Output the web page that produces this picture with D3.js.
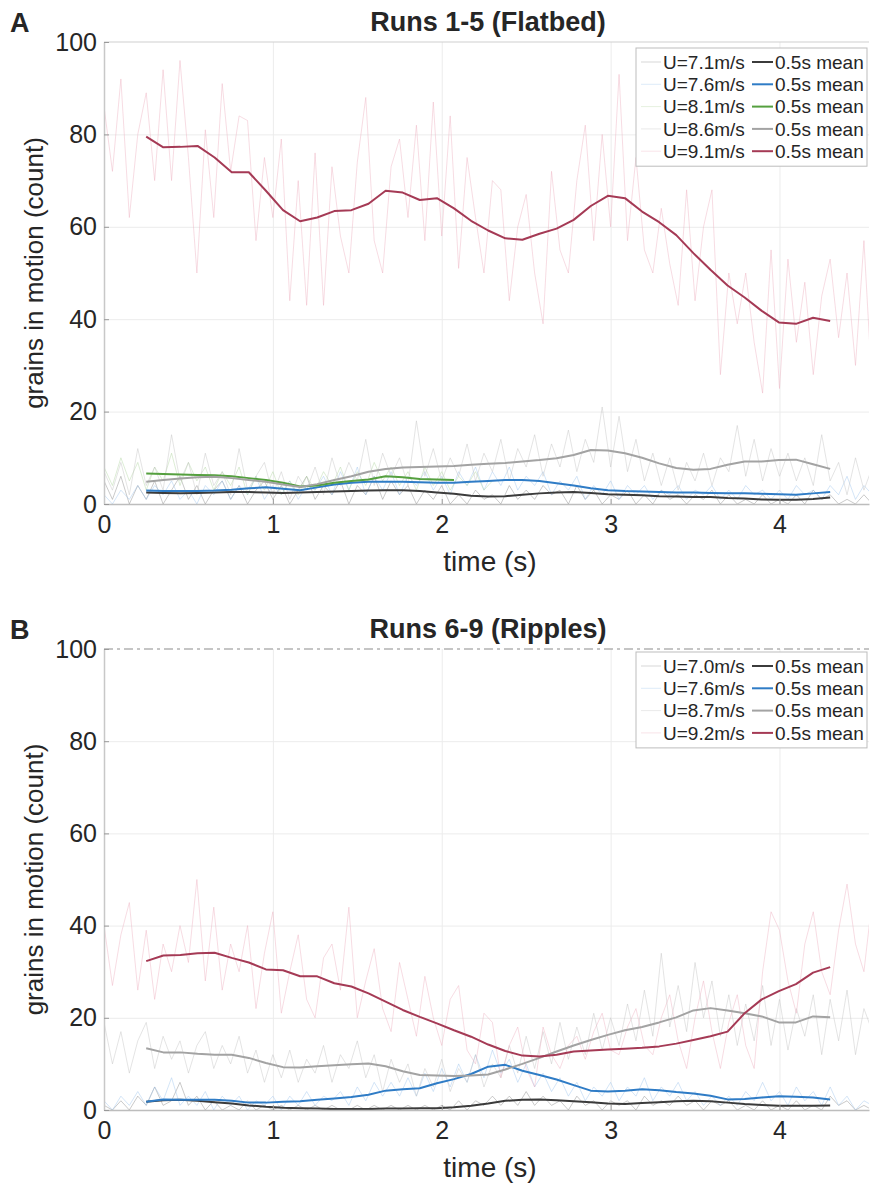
<!DOCTYPE html>
<html>
<head>
<meta charset="utf-8">
<script src="https://cdn.jsdelivr.net/npm/d3@7"></script>
<style>
  body { margin: 0; background: #fff; }
  text { font-family: 'Liberation Sans', Arial, Helvetica, sans-serif; fill: #262626; }
</style>
</head>
<body>
<script>
// raw counts, sampled every 0.05 s from t = 0
// panel A (flatbed runs 1-5)
let blackRawA = [5, 1, 6, 0, 4, 1, 5, 0, 3, 6, 1, 4, 0, 3, 5, 1, 4, 0, 3, 5,
  1, 4, 0, 3, 6, 1, 4, 2, 5, 0, 4, 2, 6, 1, 5, 2, 4, 0, 3, 1,
  4, 0, 2, 0, 3, 1, 2, 0, 4, 1, 3, 1, 4, 2, 3, 0, 4, 1, 3, 0,
  2, 1, 3, 0, 2, 0, 3, 1, 2, 0, 2, 1, 3, 0, 2, 0, 1, 0, 2, 0,
  1, 0, 2, 0, 3, 1, 2, 0, 1, 0, 2, 0]
let blueRawA = [2, 0, 3, 1, 4, 1, 4, 2, 5, 1, 3, 0, 4, 2, 5, 1, 4, 2, 6, 1,
  4, 2, 5, 1, 4, 3, 6, 2, 7, 3, 8, 2, 6, 3, 7, 2, 6, 4, 7, 3,
  6, 2, 7, 4, 8, 3, 7, 4, 8, 3, 6, 4, 7, 2, 5, 3, 6, 1, 4, 2,
  5, 1, 4, 2, 4, 1, 3, 2, 4, 1, 3, 2, 4, 1, 3, 1, 4, 2, 3, 1,
  3, 1, 4, 2, 3, 1, 4, 2, 6, 1, 4, 2]
let greenRawA = [8, 4, 10, 5, 9, 3, 8, 5, 11, 4, 9, 5, 8, 3, 7, 4, 8, 2, 6, 3,
  7, 2, 5, 2, 6, 3, 7, 4, 8, 3, 7, 4, 9, 5, 8, 4, 7, 3, 8, 4,
  7, 3, 6, 4, 7, 3, 5]
let grayRawA = [7, 3, 9, 2, 12, 4, 8, 3, 15, 5, 9, 2, 11, 4, 7, 2, 12, 3, 6, 9,
  2, 7, 1, 6, 3, 8, 2, 10, 4, 9, 5, 14, 4, 11, 6, 10, 4, 18, 6, 12,
  5, 10, 6, 13, 5, 11, 7, 14, 5, 12, 8, 15, 6, 13, 8, 16, 7, 14, 9, 21,
  8, 19, 7, 14, 5, 11, 4, 10, 3, 9, 5, 11, 4, 10, 7, 17, 6, 14, 5, 12,
  6, 11, 5, 10, 4, 15, 5, 9, 2, 10, 3, 8]
let redRawA = [86, 72, 92, 62, 80, 89, 70, 94, 70, 96, 75, 50, 81, 62, 91, 72, 84, 83, 57, 75,
  62, 79, 44, 70, 43, 76, 43, 73, 58, 50, 74, 88, 57, 50, 73, 79, 62, 82, 57, 87,
  58, 84, 51, 75, 62, 50, 70, 68, 44, 60, 67, 50, 39, 72, 55, 50, 70, 82, 57, 80,
  60, 93, 57, 75, 55, 50, 64, 52, 43, 68, 44, 60, 68, 28, 50, 39, 50, 35, 24, 55,
  25, 53, 35, 48, 28, 45, 53, 36, 50, 30, 57, 24]

// 0.5 s running means, from t = 0.25 s to t = 4.30 s
let blackMeanA = [2.5, 2.4, 2.3, 2.4, 2.5, 2.6, 2.6, 2.5, 2.4, 2.5, 2.6, 2.7, 2.8, 2.9, 3.0, 3.0, 2.8, 2.5, 2.2, 1.8,
  1.6, 1.7, 2.0, 2.3, 2.5, 2.6, 2.4, 2.1, 2.0, 1.9, 1.7, 1.6, 1.5, 1.5, 1.3, 1.2, 1.0, 0.9, 0.9, 1.1, 1.4]
let blueMeanA = [2.9, 2.8, 2.8, 2.8, 2.9, 3.1, 3.4, 3.6, 3.3, 3.0, 3.6, 4.2, 4.6, 4.8, 4.8, 4.8, 4.7, 4.6, 4.6, 4.8,
  5.0, 5.2, 5.2, 5.0, 4.5, 4.0, 3.4, 3.0, 2.8, 2.7, 2.6, 2.5, 2.5, 2.4, 2.3, 2.3, 2.2, 2.1, 2.0, 2.3, 2.6]
let greenMeanA = [6.6, 6.5, 6.4, 6.3, 6.2, 6.0, 5.6, 5.2, 4.6, 3.8, 4.0, 4.6, 5.0, 5.3, 6.0, 5.8, 5.4, 5.3, 5.2]
let grayMeanA = [4.8, 5.2, 5.5, 5.8, 5.9, 5.6, 5.2, 4.8, 4.2, 3.7, 4.3, 5.2, 6.0, 7.0, 7.6, 7.9, 8.0, 8.1, 8.2, 8.5,
  8.7, 8.9, 9.2, 9.5, 9.9, 10.6, 11.7, 11.6, 11.0, 10.0, 8.8, 7.8, 7.4, 7.6, 8.5, 9.2, 9.2, 9.5, 9.6, 8.6, 7.6]
let redMeanA = [79.5, 77.2, 77.3, 77.5, 75.0, 71.8, 71.8, 67.8, 63.6, 61.2, 62.0, 63.4, 63.6, 65.0, 67.8, 67.4, 65.8, 66.2, 64.0, 61.3,
  59.2, 57.5, 57.2, 58.5, 59.6, 61.5, 64.5, 66.7, 66.2, 63.3, 61.0, 58.2, 54.3, 50.7, 47.3, 44.7, 41.8, 39.3, 39.0, 40.3, 39.6]

// panel B (ripples runs 6-9)
let blackRawB = [1, 0, 2, 0, 3, 1, 5, 1, 2, 6, 1, 3, 0, 2, 0, 1, 0, 2, 0, 1,
  0, 1, 0, 1, 0, 1, 0, 1, 0, 0, 1, 0, 1, 0, 1, 0, 1, 0, 1, 0,
  1, 0, 2, 0, 2, 1, 3, 1, 3, 1, 4, 1, 3, 1, 2, 0, 3, 1, 2, 0,
  2, 1, 2, 0, 3, 1, 2, 1, 3, 1, 2, 0, 2, 1, 2, 0, 1, 0, 2, 0,
  1, 0, 2, 0, 1, 0, 3, 1, 2, 0, 1, 0]
let blueRawB = [2, 0, 3, 1, 4, 1, 5, 2, 7, 1, 3, 1, 4, 0, 3, 1, 3, 0, 2, 1,
  3, 0, 3, 1, 4, 1, 3, 2, 4, 1, 5, 2, 6, 3, 6, 3, 7, 3, 8, 4,
  9, 5, 10, 6, 12, 7, 13, 8, 11, 6, 10, 5, 8, 4, 7, 3, 6, 2, 5, 3,
  6, 2, 5, 3, 7, 2, 5, 3, 6, 2, 4, 1, 3, 1, 3, 1, 4, 2, 6, 2,
  4, 1, 5, 2, 4, 1, 5, 1, 3, 0, 2, 1]
let grayRawB = [19, 10, 17, 8, 15, 19, 9, 16, 11, 15, 8, 14, 17, 9, 14, 10, 16, 8, 13, 6,
  12, 7, 13, 6, 11, 8, 14, 6, 12, 9, 15, 7, 12, 4, 11, 6, 10, 3, 9, 5,
  11, 4, 9, 6, 12, 5, 10, 7, 14, 8, 16, 9, 17, 10, 19, 11, 18, 12, 21, 13,
  20, 14, 23, 15, 26, 16, 34, 18, 27, 17, 32, 20, 28, 16, 25, 14, 23, 15, 27, 14,
  24, 13, 22, 16, 25, 12, 24, 15, 26, 12, 22, 17]
let redRawB = [40, 27, 38, 45, 26, 39, 24, 36, 30, 40, 32, 50, 28, 44, 26, 36, 30, 40, 22, 34,
  43, 21, 30, 38, 24, 20, 33, 36, 26, 44, 20, 28, 35, 22, 17, 32, 24, 16, 29, 20,
  14, 24, 27, 13, 10, 21, 19, 7, 14, 18, 9, 5, 18, 12, 9, 14, 16, 11, 17, 21,
  13, 12, 18, 22, 14, 12, 20, 25, 15, 9, 20, 28, 17, 9, 19, 25, 14, 9, 30, 43,
  39, 28, 21, 36, 43, 30, 25, 39, 49, 36, 30, 46]

let blackMeanB = [1.8, 2.1, 2.2, 2.0, 1.7, 1.4, 1.0, 0.7, 0.5, 0.4, 0.3, 0.2, 0.2, 0.2, 0.3, 0.3, 0.4, 0.4, 0.6, 0.9,
  1.4, 2.0, 2.2, 2.3, 2.1, 1.9, 1.7, 1.4, 1.3, 1.5, 1.7, 1.9, 2.0, 1.9, 1.6, 1.3, 1.1, 0.9, 0.9, 0.9, 1.0]
let blueMeanB = [1.8, 2.3, 2.2, 2.2, 2.2, 2.0, 1.6, 1.6, 1.8, 1.9, 2.2, 2.5, 2.8, 3.3, 4.2, 4.5, 4.7, 5.8, 6.7, 7.8,
  9.4, 9.8, 8.5, 7.6, 6.6, 5.4, 4.2, 4.0, 4.2, 4.5, 4.3, 3.9, 3.6, 3.1, 2.3, 2.4, 2.7, 3.0, 2.9, 2.7, 2.3]
let grayMeanB = [13.4, 12.5, 12.5, 12.2, 12.0, 12.0, 11.3, 10.2, 9.3, 9.2, 9.5, 9.7, 9.9, 10.1, 9.5, 8.4, 7.6, 7.5, 7.4, 7.5,
  7.7, 8.8, 10.0, 11.3, 12.7, 14.0, 15.2, 16.3, 17.3, 18.0, 19.0, 20.1, 21.6, 22.1, 21.6, 21.0, 20.3, 19.0, 19.0, 20.3, 20.1]
let redMeanB = [32.3, 33.5, 33.6, 34.0, 34.1, 33.0, 32.0, 30.5, 30.3, 29.0, 29.0, 27.5, 26.8, 25.3, 23.5, 21.7, 20.2, 18.8, 17.3, 15.9,
  14.2, 12.8, 11.8, 11.6, 12.0, 12.7, 12.9, 13.1, 13.3, 13.5, 13.8, 14.4, 15.2, 16.0, 17.0, 21.0, 24.0, 25.8, 27.3, 29.8, 31.0]

// legend labels
let speedsA = ['U=7.1m/s', 'U=7.6m/s', 'U=8.1m/s', 'U=8.6m/s', 'U=9.1m/s']
let speedsB = ['U=7.0m/s', 'U=7.6m/s', 'U=8.7m/s', 'U=9.2m/s']
let meanLabel = '0.5s mean'
let yTicks = [0, 20, 40, 60, 80, 100]
let xTicks = [0, 1, 2, 3, 4]

// sampling of the raw and mean series
let rawStep = 0.05
let meanStart = 0.25
let meanStep = 0.10125

// colours for each speed (raw line, mean line)
let col = {
  black: { raw: '#8a8a8a', mean: '#3b3b3b' },
  blue: { raw: '#9fc6ee', mean: '#2f7cc6' },
  green: { raw: '#b4d8a4', mean: '#55a03f' },
  gray: { raw: '#c4c4c4', mean: '#a3a3a3' },
  red: { raw: '#eeb1c1', mean: '#a53a55' },
}

// measurements for the plots
let m = {
  width: 871,
  height: 1187,
  left: 104,
  right: 869,
  xMax: 4.53,
}

let svg = d3.select('body')
  .append('svg')
  .attr('width', m.width)
  .attr('height', m.height)

let panels = [
  {
    id: 'A', title: 'Runs 1-5 (Flatbed)', top: 42, bottom: 504, dashedTop: false, legendTop: 48,
    series: [
      { label: speedsA[0], raw: blackRawA, mean: blackMeanA, c: col.black },
      { label: speedsA[1], raw: blueRawA, mean: blueMeanA, c: col.blue },
      { label: speedsA[2], raw: greenRawA, mean: greenMeanA, c: col.green },
      { label: speedsA[3], raw: grayRawA, mean: grayMeanA, c: col.gray },
      { label: speedsA[4], raw: redRawA, mean: redMeanA, c: col.red },
    ]
  },
  {
    id: 'B', title: 'Runs 6-9 (Ripples)', top: 649, bottom: 1110, dashedTop: true, legendTop: 652,
    series: [
      { label: speedsB[0], raw: blackRawB, mean: blackMeanB, c: col.black },
      { label: speedsB[1], raw: blueRawB, mean: blueMeanB, c: col.blue },
      { label: speedsB[2], raw: grayRawB, mean: grayMeanB, c: col.gray },
      { label: speedsB[3], raw: redRawB, mean: redMeanB, c: col.red },
    ]
  },
]

panels.forEach(drawPanel)

function drawPanel(p) {
  let g = svg.append('g')

  let xScale = d3.scaleLinear()
    .domain([0, m.xMax])
    .range([m.left, m.right])

  let yScale = d3.scaleLinear()
    .domain([0, 100])
    .range([p.bottom, p.top])

  // grid lines
  g.append('g')
    .attr('transform', 'translate(0,' + p.bottom + ')')
    .call(d3.axisBottom(xScale).tickValues(xTicks.slice(1)).tickSize(-(p.bottom - p.top)).tickFormat(''))
    .call(function(s) { s.select('.domain').remove() })
    .selectAll('line').attr('stroke', '#ececec')

  g.append('g')
    .attr('transform', 'translate(' + m.left + ',0)')
    .call(d3.axisLeft(yScale).tickValues(yTicks.slice(1, -1)).tickSize(-(m.right - m.left)).tickFormat(''))
    .call(function(s) { s.select('.domain').remove() })
    .selectAll('line').attr('stroke', '#ececec')

  // top border
  g.append('line')
    .attr('x1', m.left).attr('x2', m.right)
    .attr('y1', p.top).attr('y2', p.top)
    .attr('stroke', p.dashedTop ? '#8c8c8c' : '#d0d0d0')
    .attr('stroke-width', 1.2)
    .attr('stroke-dasharray', p.dashedTop ? '9,4,3,4' : null)

  // clip the lines to the plot area
  let clipId = 'clip' + p.id
  svg.append('clipPath').attr('id', clipId)
    .append('rect')
    .attr('x', m.left).attr('y', p.top)
    .attr('width', m.right - m.left).attr('height', p.bottom - p.top)

  let line = d3.line()
    .x(function(d) { return xScale(d.t) })
    .y(function(d) { return yScale(d.v) })

  let lines = g.append('g').attr('clip-path', 'url(#' + clipId + ')')

  // raw data first (faint), then the running means on top
  p.series.forEach(function(s) {
    let pts = s.raw.map(function(v, i) { return { t: i * rawStep, v: v } })
    lines.append('path')
      .datum(pts)
      .attr('d', line)
      .attr('fill', 'none')
      .attr('stroke', s.c.raw)
      .attr('stroke-opacity', 0.5)
      .attr('stroke-width', 0.9)
  })

  p.series.forEach(function(s) {
    let pts = s.mean.map(function(v, i) { return { t: meanStart + i * meanStep, v: v } })
    lines.append('path')
      .datum(pts)
      .attr('d', line)
      .attr('fill', 'none')
      .attr('stroke', s.c.mean)
      .attr('stroke-width', 2)
      .attr('stroke-linejoin', 'round')
  })

  // axes
  let xAxis = g.append('g')
    .attr('transform', 'translate(0,' + p.bottom + ')')
    .call(d3.axisBottom(xScale).tickValues(xTicks).tickSize(-5).tickSizeOuter(0).tickPadding(11).tickFormat(d3.format('d')))
  xAxis.select('.domain').attr('stroke', '#bdbdbd').attr('stroke-width', 1.5)
  xAxis.selectAll('line').attr('stroke', '#9a9a9a')
  xAxis.selectAll('text').attr('font-size', 25).attr('fill', '#262626')

  let yAxis = g.append('g')
    .attr('transform', 'translate(' + m.left + ',0)')
    .call(d3.axisLeft(yScale).tickValues(yTicks).tickSize(-5).tickSizeOuter(0).tickPadding(7))
  yAxis.select('.domain').attr('stroke', '#c8c8c8').attr('stroke-width', 1.5)
  yAxis.selectAll('line').attr('stroke', '#9a9a9a')
  yAxis.selectAll('text').attr('font-size', 25).attr('fill', '#262626')

  // panel letter and title
  svg.append('text')
    .attr('x', 10).attr('y', p.top - 10)
    .attr('font-size', 27).attr('font-weight', 'bold')
    .attr('fill', '#000')
    .text(p.id)

  svg.append('text')
    .attr('x', 488).attr('y', p.top - 11)
    .attr('text-anchor', 'middle')
    .attr('font-size', 27).attr('font-weight', 'bold')
    .attr('fill', '#000')
    .text(p.title)

  // axis labels
  svg.append('text')
    .attr('x', 490).attr('y', p.bottom + 67)
    .attr('text-anchor', 'middle')
    .attr('font-size', 28)
    .text('time (s)')

  svg.append('text')
    .attr('transform', 'translate(43,' + ((p.top + p.bottom) / 2) + ') rotate(-90)')
    .attr('text-anchor', 'middle')
    .attr('font-size', 26)
    .text('grains in motion (count)')

  // legend
  let rowH = 22.3
  let lg = svg.append('g')
  let boxH = 28 + rowH * (p.series.length - 1) + 1
  lg.append('rect')
    .attr('x', 636).attr('y', p.legendTop)
    .attr('width', 231).attr('height', boxH)
    .attr('fill', '#fff')
    .attr('stroke', '#bdbdbd')

  p.series.forEach(function(s, i) {
    let y = p.legendTop + 14 + i * rowH
    lg.append('line')
      .attr('x1', 641).attr('x2', 661).attr('y1', y).attr('y2', y)
      .attr('stroke', s.c.raw).attr('stroke-opacity', 0.35)
    lg.append('text')
      .attr('x', 663).attr('y', y).attr('dy', '0.35em')
      .attr('font-size', 19)
      .text(s.label)
    lg.append('line')
      .attr('x1', 752).attr('x2', 773).attr('y1', y).attr('y2', y)
      .attr('stroke', s.c.mean).attr('stroke-width', 2)
    lg.append('text')
      .attr('x', 775).attr('y', y).attr('dy', '0.35em')
      .attr('font-size', 19)
      .text(meanLabel)
  })
}
</script>
</body>
</html>
